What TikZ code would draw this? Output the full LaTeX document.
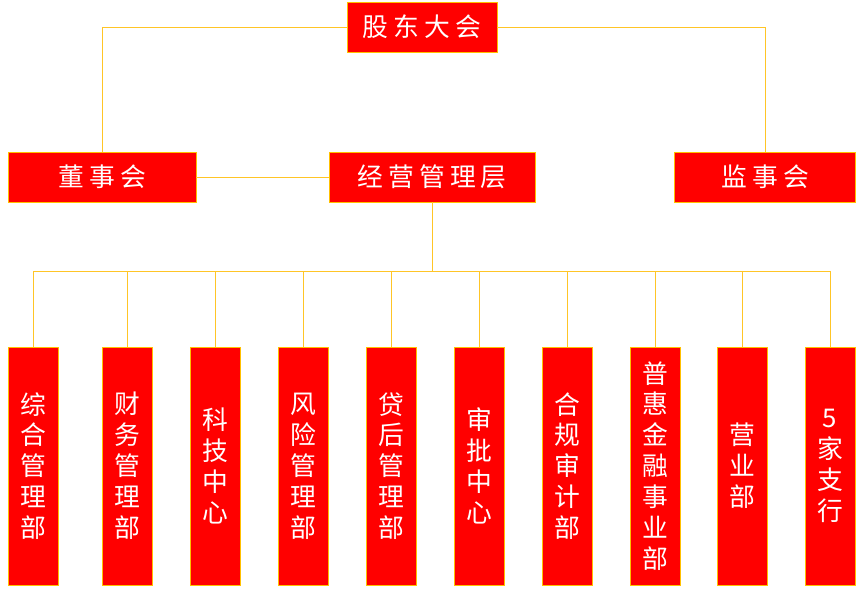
\documentclass[tikz,border=0pt]{standalone}
\usepackage{fontspec}
\usepackage{tikz}
\usetikzlibrary{calc,positioning}
\newfontfamily\cjk{Noto Sans CJK SC}
\newfontfamily\cjkwide[LetterSpace=20]{Noto Sans CJK SC}
\definecolor{boxred}{HTML}{FF0000}
\definecolor{boxedge}{HTML}{FFC000}
\definecolor{linkgold}{HTML}{FFC526}

\tikzset{
  orgbox/.style={draw=boxedge, fill=boxred, text=white, line width=0.7pt,
    minimum height=1.5cm, inner sep=0pt,
    font=\cjkwide\fontsize{22}{26.4}\selectfont},
  tallbox/.style={draw=boxedge, fill=boxred, text=white, line width=0.7pt,
    minimum width=1.5cm, minimum height=7.14cm, inner sep=0pt,
    align=center, font=\cjk\fontsize{22}{26.4}\selectfont},
  link/.style={draw=linkgold, line width=0.8pt}
}

\begin{document}
\begin{tikzpicture}[x=0.03cm,y=-0.03cm]

\useasboundingbox (0,0) rectangle (863,595);

% top level
\node[orgbox, minimum width=4.5cm] (gd) at (422,27) {股东大会};

% second level
\node[orgbox, minimum width=5.64cm] (dsh) at (102,177) {董事会};
\node[orgbox, minimum width=6.18cm] (jy) at (432,177) {经营管理层};
\node[orgbox, minimum width=5.43cm] (jsh) at (765,177) {监事会};

% departments
\node[tallbox] (b1) at (33,466) {综\\合\\管\\理\\部};
\node[tallbox] (b2) at (127,466) {财\\务\\管\\理\\部};
\node[tallbox] (b3) at (215,466) {科\\技\\中\\心};
\node[tallbox] (b4) at (303,466) {风\\险\\管\\理\\部};
\node[tallbox] (b5) at (391,466) {贷\\后\\管\\理\\部};
\node[tallbox] (b6) at (479,466) {审\\批\\中\\心};
\node[tallbox] (b7) at (567,466) {合\\规\\审\\计\\部};
\node[tallbox] (b8) at (655,466) {普\\惠\\金\\融\\事\\业\\部};
\node[tallbox] (b9) at (742,466) {营\\业\\部};
\node[tallbox] (b10) at (830,466) {5\\家\\支\\行};

% connectors
\draw[link] (gd.west) -| (dsh.north);
\draw[link] (gd.east) -| (jsh.north);
\draw[link] (dsh.east) -- (jy.west);

\coordinate (bus) at (432,271);
\draw[link] (jy.south) -- (bus);
\foreach \i in {1,...,10}
  \draw[link] (bus) -| (b\i.north);

\end{tikzpicture}
\end{document}
